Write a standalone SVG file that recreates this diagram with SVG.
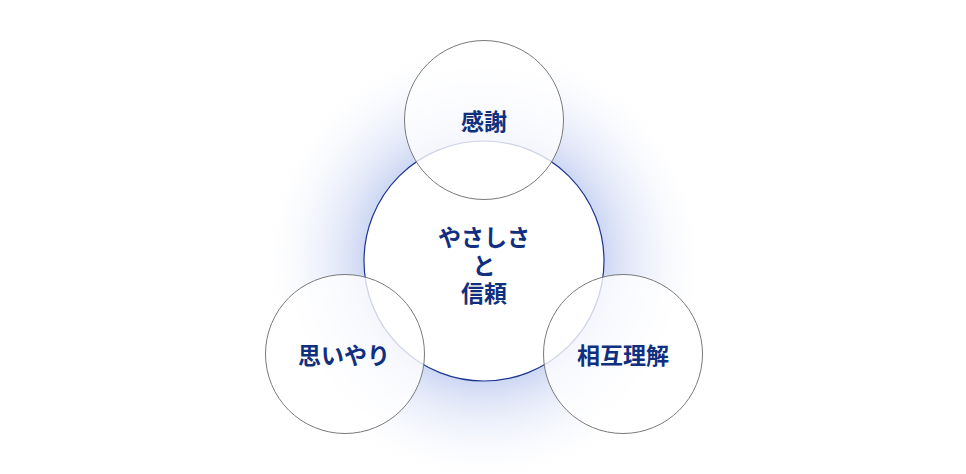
<svg xmlns="http://www.w3.org/2000/svg" width="966" height="474" viewBox="0 0 966 474">
<style>
.small{fill:#ffffff;fill-opacity:0.78;stroke:#7a7a7a;stroke-width:1}
.big{fill:#ffffff;stroke:#1d3590;stroke-width:1.2}
.lbl{font-family:"Noto Sans CJK JP","Noto Sans CJK SC",sans-serif;font-weight:700;font-size:23px;fill:#10307f;text-anchor:middle}
</style>
<defs>
<radialGradient id="glow" cx="484" cy="261" r="225" gradientUnits="userSpaceOnUse">
<stop offset="0.5" stop-color="#c6d1f2" stop-opacity="1"/>
<stop offset="0.62" stop-color="#dce3f7" stop-opacity="0.9"/>
<stop offset="0.8" stop-color="#f0f3fc" stop-opacity="0.6"/>
<stop offset="1" stop-color="#ffffff" stop-opacity="0"/>
</radialGradient>
</defs>
<rect width="966" height="474" fill="#ffffff"/>
<circle cx="484" cy="261" r="225" fill="url(#glow)"/>
<g id="center">
<circle class="big" cx="484" cy="261" r="120"/>
<text class="lbl" x="484" y="246">やさしさ<tspan x="484" dy="28">と</tspan><tspan x="484" dy="28">信頼</tspan></text>
</g>
<g id="top">
<circle class="small" cx="484" cy="120" r="79.5"/>
<text class="lbl" x="484" y="130">感謝</text>
</g>
<g id="left">
<circle class="small" cx="345" cy="354" r="79.5"/>
<text class="lbl" x="344" y="364">思いやり</text>
</g>
<g id="right">
<circle class="small" cx="623" cy="354" r="79.5"/>
<text class="lbl" x="623" y="364">相互理解</text>
</g>
<g id="connectors"/>
</svg>
